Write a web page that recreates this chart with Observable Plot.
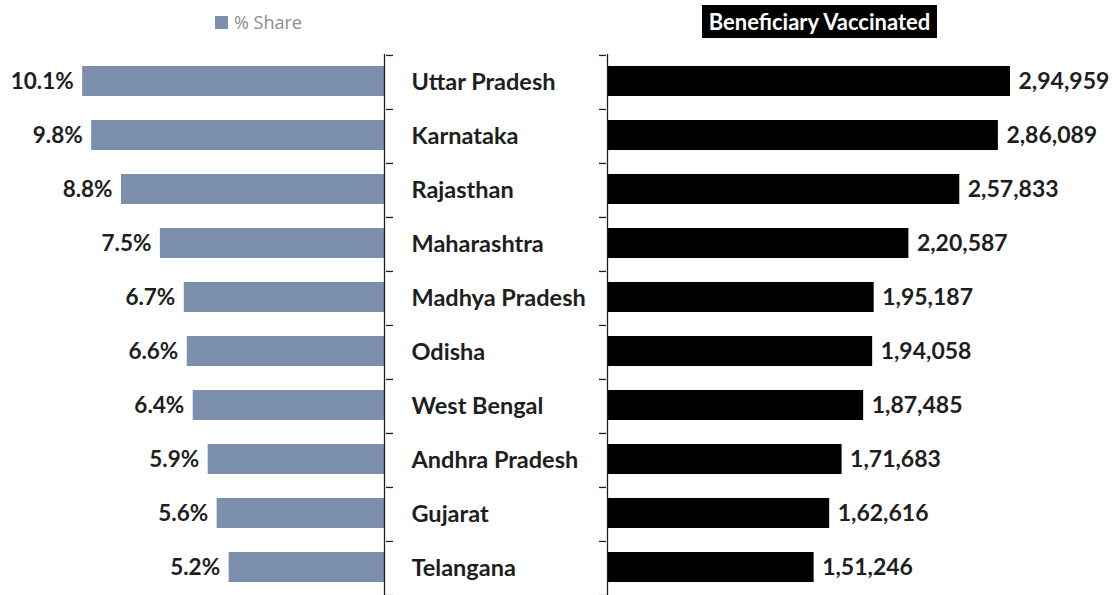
<!DOCTYPE html>
<html>
<head>
<meta charset="utf-8">
<script src="https://cdn.jsdelivr.net/npm/d3@7"></script>
<script src="https://cdn.jsdelivr.net/npm/@observablehq/plot@0.6"></script>
<style>
  html, body { margin: 0; padding: 0; background: #fff; }
  #wrap { position: relative; width: 1115px; height: 595px; overflow: hidden; font-family: Lato, "Open Sans", sans-serif; }
  #legend { position: relative; height: 45px; }
  #leg1 { position: absolute; left: 215px; top: 10px; font-family: "Open Sans", sans-serif; font-size: 18px; color: #8c8c8c; display: flex; align-items: center; }
  #leg1 .sw { width: 13px; height: 13px; background: #7c8fac; margin-right: 6px; }
  #leg2 { position: absolute; left: 702px; top: 5px; width: 235px; height: 33px; background: #000; color: #fff; font-weight: 700; font-size: 22px; display: flex; align-items: center; justify-content: center; white-space: nowrap; }
  #plots { display: flex; }
  #plots svg { display: block; }
</style>
</head>
<body>
<div id="wrap">
  <div id="legend">
    <div id="leg1"><span class="sw"></span><span>% Share</span></div>
    <div id="leg2">Beneficiary Vaccinated</div>
  </div>
  <div id="plots"></div>
</div>
<script>
const states = ["Uttar Pradesh", "Karnataka", "Rajasthan", "Maharashtra", "Madhya Pradesh", "Odisha", "West Bengal", "Andhra Pradesh", "Gujarat", "Telangana"];
const shares = [10.1, 9.8, 8.8, 7.5, 6.7, 6.6, 6.4, 5.9, 5.6, 5.2];
const vaccinated = [294959, 286089, 257833, 220587, 195187, 194058, 187485, 171683, 162616, 151246];

const shareData = states.map((s, i) => ({state: s, share: shares[i]}));
const vaccData = states.map((s, i) => ({state: s, value: vaccinated[i]}));

function indian(n) {
  const s = String(Math.round(n));
  if (s.length <= 3) return s;
  const last3 = s.slice(-3);
  let rest = s.slice(0, -3);
  const parts = [];
  while (rest.length > 2) { parts.unshift(rest.slice(-2)); rest = rest.slice(0, -2); }
  if (rest.length) parts.unshift(rest);
  return parts.join(",") + "," + last3;
}

const H = 550, MT = 9, MB = 0;
const step = (H - MT - MB) / states.length;
const yScale = {domain: states, paddingInner: 0.44, paddingOuter: 0.22, axis: null};
const font = "Lato, 'Open Sans', sans-serif";
const blue = "#7c8fac";
const ink = "#1e1e1e";

const left = Plot.plot({
  width: 386, height: H, marginTop: MT, marginBottom: MB, marginLeft: 0, marginRight: 2,
  style: {fontFamily: font, overflow: "visible"},
  x: {domain: [0, 12.85], reverse: true, axis: null},
  y: yScale,
  marks: [
    Plot.barX(shareData, {x: "share", y: "state", fill: blue}),
    Plot.text(shareData, {x: "share", y: "state", text: d => d.share.toFixed(1) + "%", textAnchor: "end", dx: -9, fontSize: 22.5, fontWeight: 700, fill: ink}),
    Plot.ruleX([0], {stroke: ink, strokeWidth: 1.3})
  ]
});

const boundaries = states.map(s => ({state: s, off: -step / 2})).concat([{state: states[states.length - 1], off: step / 2}]);

const center = Plot.plot({
  width: 220, height: H, marginTop: MT, marginBottom: MB, marginLeft: 0, marginRight: 0,
  style: {fontFamily: font, overflow: "visible"},
  y: yScale,
  marks: [
    ...boundaries.map(b => Plot.tickY([b], {y: "state", dy: b.off, stroke: ink, strokeWidth: 1.3, insetLeft: 0, insetRight: 213})),
    ...boundaries.map(b => Plot.tickY([b], {y: "state", dy: b.off, stroke: ink, strokeWidth: 1.3, insetLeft: 213, insetRight: 0})),
    Plot.text(states, {y: d => d, frameAnchor: "left", dx: 25, textAnchor: "start", fontSize: 23.5, fontWeight: 700, fill: ink})
  ]
});

const right = Plot.plot({
  width: 509, height: H, marginTop: MT, marginBottom: MB, marginLeft: 1, marginRight: 0,
  style: {fontFamily: font, overflow: "visible"},
  x: {domain: [0, 371800], axis: null},
  y: yScale,
  marks: [
    Plot.barX(vaccData, {x: "value", y: "state", fill: "#000"}),
    Plot.text(vaccData, {x: "value", y: "state", text: d => indian(d.value), textAnchor: "start", dx: 8, fontSize: 23, fontWeight: 700, fill: ink}),
    Plot.ruleX([0], {stroke: ink, strokeWidth: 1.3})
  ]
});

const host = document.getElementById("plots");
host.append(left, center, right);
</script>
</body>
</html>
